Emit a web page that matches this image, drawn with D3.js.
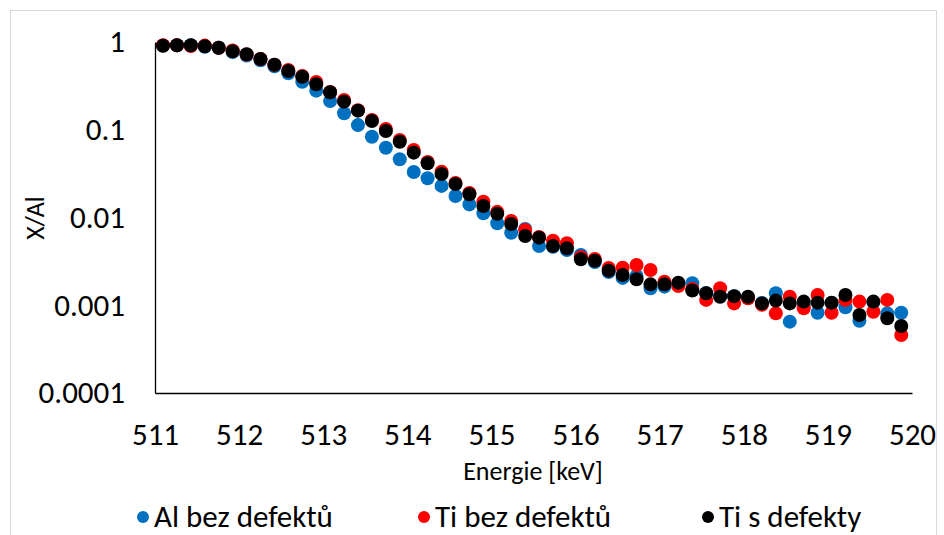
<!DOCTYPE html>
<html>
<head>
<meta charset="utf-8">
<script src="https://cdn.jsdelivr.net/npm/d3@7"></script>
<style>
  html, body { margin: 0; padding: 0; background: #fff; }
  svg { display: block; }
  text { font-family: Carlito, Calibri, Lato, sans-serif; fill: #000; }
</style>
</head>
<body>
<svg id="chart" width="944" height="535"></svg>
<script>
// ---- data ----
const energies = [511.095, 511.261, 511.426, 511.592, 511.757, 511.923, 512.089, 512.254, 512.420, 512.585,
  512.751, 512.917, 513.082, 513.248, 513.413, 513.579, 513.745, 513.910, 514.076, 514.241,
  514.407, 514.573, 514.738, 514.904, 515.069, 515.235, 515.401, 515.566, 515.732, 515.897,
  516.063, 516.229, 516.394, 516.560, 516.725, 516.891, 517.057, 517.222, 517.388, 517.553,
  517.719, 517.885, 518.050, 518.216, 518.381, 518.547, 518.713, 518.878, 519.044, 519.209,
  519.375, 519.541, 519.706, 519.872];

const alBezDefektu = [0.91, 0.92, 0.92, 0.88, 0.86, 0.77, 0.70, 0.62, 0.53, 0.440,
  0.353, 0.279, 0.213, 0.154, 0.113, 0.0833, 0.0624, 0.0461, 0.0330, 0.0280,
  0.0229, 0.0176, 0.0141, 0.0112, 0.00859, 0.00671, 0.00740, 0.00473, 0.00465, 0.00426,
  0.00374, 0.00311, 0.00239, 0.00205, 0.00216, 0.00156, 0.00163, 0.00170, 0.00178, 0.00138,
  0.00127, 0.00127, 0.00121, 0.00106, 0.00137, 0.000650, 0.00101, 0.000822, 0.00106, 0.000948,
  0.000667, 0.00109, 0.000809, 0.000822];

const tiBezDefektu = [0.92, 0.92, 0.90, 0.91, 0.86, 0.80, 0.72, 0.64, 0.55, 0.48,
  0.41, 0.350, 0.269, 0.218, 0.167, 0.129, 0.102, 0.0764, 0.0588, 0.0429,
  0.0332, 0.0247, 0.0190, 0.0151, 0.0116, 0.00912, 0.00721, 0.0060, 0.00544, 0.00508,
  0.00355, 0.00337, 0.00266, 0.00268, 0.00288, 0.00252, 0.00185, 0.00166, 0.00153, 0.00115,
  0.00156, 0.00105, 0.00120, 0.00101, 0.000809, 0.00125, 0.000923, 0.00131, 0.000822, 0.00115,
  0.00110, 0.000844, 0.00115, 0.000458];

const tiSDefekty = [0.908, 0.917, 0.917, 0.893, 0.861, 0.783, 0.724, 0.640, 0.551, 0.467,
  0.402, 0.330, 0.267, 0.209, 0.165, 0.126, 0.0968, 0.0731, 0.0548, 0.0415,
  0.0313, 0.0241, 0.0184, 0.0135, 0.0110, 0.00844, 0.00615, 0.00589, 0.00473, 0.00446,
  0.00334, 0.00322, 0.00248, 0.00221, 0.00198, 0.00173, 0.00173, 0.00181, 0.00147, 0.00137,
  0.00125, 0.00127, 0.00125, 0.00105, 0.00113, 0.00105, 0.00110, 0.00107, 0.00107, 0.00131,
  0.000774, 0.00110, 0.000710, 0.000580];

const seriesNames = ["Al bez defektů", "Ti bez defektů", "Ti s defekty"];
const seriesColors = ["#0070C0", "#FF0000", "#000000"];
const xTicks = [511, 512, 513, 514, 515, 516, 517, 518, 519, 520];
const yTicks = [1, 0.1, 0.01, 0.001, 0.0001];
const yTickLabels = ["1", "0.1", "0.01", "0.001", "0.0001"];
const xTitle = "Energie [keV]";
const yTitle = "X/Al";

// ---- layout ----
const svg = d3.select("#chart");
const plot = { left: 155, right: 912, top: 42, bottom: 393 };

const x = d3.scaleLinear().domain([511, 520]).range([plot.left, plot.right]);
const y = d3.scaleLog().domain([0.0001, 1]).range([plot.bottom, plot.top]);

// chart frame
svg.append("rect")
  .attr("x", 10.5).attr("y", 10.5).attr("width", 926).attr("height", 540)
  .attr("fill", "none").attr("stroke", "#d9d9d9").attr("stroke-width", 1);

// axes
const xAxis = d3.axisBottom(x).tickValues(xTicks).tickSize(0).tickPadding(30).tickFormat(d3.format("d"));
const gx = svg.append("g").attr("transform", `translate(0,${plot.bottom})`).call(xAxis);
gx.select(".domain").attr("stroke", "#000").attr("stroke-width", 1.3);
gx.selectAll("text").attr("font-size", 31).attr("fill", "#000");

const yAxis = d3.axisLeft(y).tickValues(yTicks).tickSize(0).tickPadding(30)
  .tickFormat((d, i) => yTickLabels[i]);
const gy = svg.append("g").attr("transform", `translate(${plot.left},0)`).call(yAxis);
gy.select(".domain").attr("stroke", "#000").attr("stroke-width", 1.3);
gy.selectAll("text").attr("font-size", 31).attr("fill", "#000");
svg.selectAll("g").attr("font-family", null);

// titles
svg.append("text")
  .attr("x", 533).attr("y", 480)
  .attr("text-anchor", "middle").attr("font-size", 26)
  .text(xTitle);
svg.append("text")
  .attr("transform", "translate(44,218) rotate(-90)")
  .attr("text-anchor", "middle").attr("font-size", 26)
  .text(yTitle);

// data points
const allSeries = [alBezDefektu, tiBezDefektu, tiSDefekty];
allSeries.forEach((vals, si) => {
  svg.append("g").selectAll("circle")
    .data(vals.map((v, i) => ({ e: energies[i], v })))
    .join("circle")
    .attr("cx", d => x(d.e))
    .attr("cy", d => y(d.v))
    .attr("r", 7)
    .attr("fill", seriesColors[si]);
});

// legend
const legendX = [143, 424, 708];
seriesNames.forEach((name, i) => {
  const g = svg.append("g").attr("transform", `translate(${legendX[i]},517)`);
  g.append("circle").attr("r", 6).attr("fill", seriesColors[i]);
  g.append("text").attr("x", 11).attr("y", 10).attr("font-size", 31).text(name);
});
</script>
</body>
</html>
